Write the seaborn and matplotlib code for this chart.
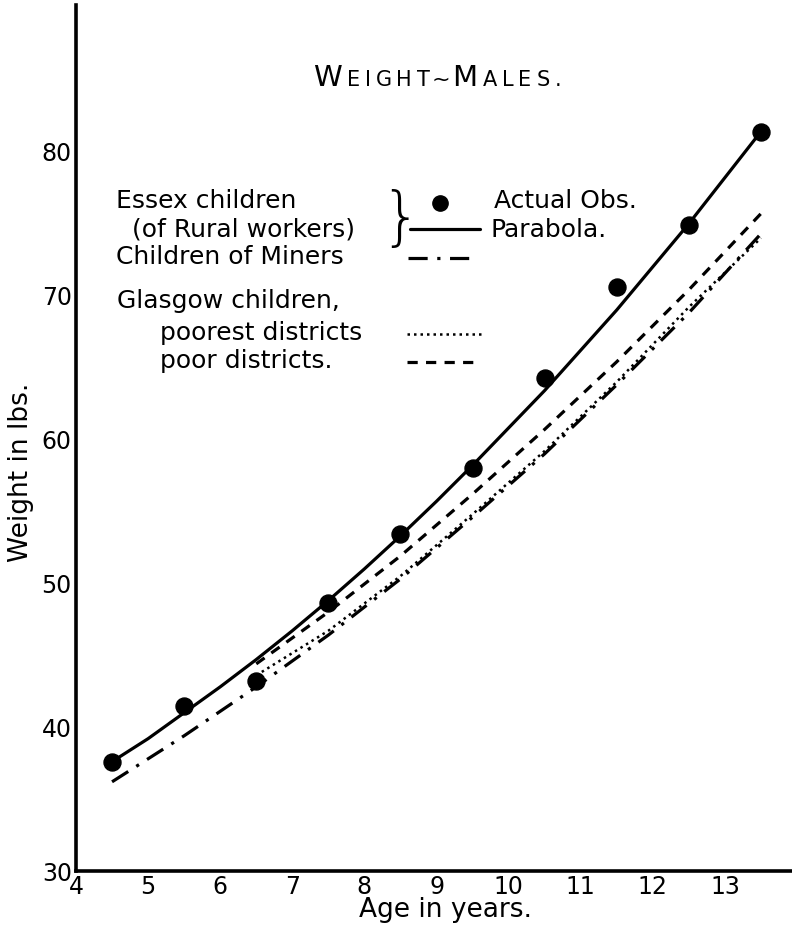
import matplotlib
matplotlib.use("Agg")
import matplotlib.pyplot as plt
import seaborn as sns
import pandas as pd
from matplotlib.lines import Line2D

# ---- data ----
obs_age = [4.5, 5.5, 6.5, 7.5, 8.5, 9.5, 10.5, 11.5, 12.5, 13.5]
obs_weight = [37.6, 41.5, 43.2, 48.6, 53.4, 58.0, 64.3, 70.6, 74.9, 81.4]

parabola_age = [4.5, 5.0, 5.5, 6.0, 6.5, 7.0, 7.5, 8.0, 8.5, 9.0,
                9.5, 10.0, 10.5, 11.0, 11.5, 12.0, 12.5, 13.0, 13.5]
parabola_weight = [37.6, 39.2, 41.0, 42.8, 44.7, 46.7, 48.8, 51.0, 53.3, 55.7,
                   58.2, 60.8, 63.4, 66.2, 69.0, 72.0, 75.0, 78.2, 81.4]

miners_age = [4.5, 5.5, 6.5, 7.5, 8.5, 9.5, 10.5, 11.5, 12.5, 13.5]
miners_weight = [36.2, 39.4, 42.8, 46.4, 50.3, 54.6, 59.0, 63.8, 68.8, 74.3]

glasgow_age = [6.5, 7.5, 8.5, 9.5, 10.5, 11.5, 12.5, 13.5]
poorest_weight = [43.6, 46.7, 50.5, 54.8, 59.2, 64.0, 69.2, 74.0]
poor_weight = [44.4, 48.0, 51.9, 56.2, 60.7, 65.4, 70.4, 75.7]

x_ticks = [4, 5, 6, 7, 8, 9, 10, 11, 12, 13]
y_ticks = [30, 40, 50, 60, 70, 80]

# ---- style ----
sns.set_style("white")
plt.rcParams["font.family"] = ["DejaVu Sans"]
plt.rcParams["text.color"] = "black"
plt.rcParams["axes.labelcolor"] = "black"
plt.rcParams["xtick.color"] = "black"
plt.rcParams["ytick.color"] = "black"

W, H = 792, 930
fig = plt.figure(figsize=(W / 100, H / 100), dpi=100)
ax = fig.add_axes([76 / W, 59 / H, (791 - 76) / W, (925 - 59) / H])

def fx(px):
    return px / W

def fy(py):
    return 1 - py / H

ink = "black"
lw = 2.3

sns.lineplot(x=parabola_age, y=parabola_weight, ax=ax, color=ink, lw=lw)
sns.lineplot(x=miners_age, y=miners_weight, ax=ax, color=ink, lw=lw,
             dashes=(6, 3, 1, 3))
sns.lineplot(x=glasgow_age, y=poor_weight, ax=ax, color=ink, lw=lw,
             dashes=(3.2, 2.6))
sns.lineplot(x=glasgow_age, y=poorest_weight, ax=ax, color=ink, lw=1.8,
             dashes=(1, 1.6))
sns.scatterplot(x=obs_age, y=obs_weight, ax=ax, color=ink, s=150,
                edgecolor=ink, zorder=5)

ax.set_xlim(4, 4 + (791 - 77) / 72.0)
ax.set_ylim(30, 90.2)
ax.set_xticks(x_ticks)
ax.set_yticks(y_ticks)
ax.set_xticklabels([str(v) for v in x_ticks], fontsize=17)
ax.set_yticklabels([str(v) for v in y_ticks], fontsize=17)
ax.tick_params(axis="x", direction="in", length=8, width=2, pad=3, colors=ink)
ax.tick_params(axis="y", direction="in", length=7, width=2, pad=3, colors=ink)
for side in ["top", "right"]:
    ax.spines[side].set_visible(False)
for side in ["left", "bottom"]:
    ax.spines[side].set_linewidth(2.6)
    ax.spines[side].set_color(ink)

ax.set_xlabel("Age in years.", fontsize=19)
ax.set_ylabel("Weight in lbs.", fontsize=19)
ax.xaxis.set_label_coords((445 - 76) / 715, (871 - 897) / 866)
ax.yaxis.set_label_coords((21 - 76) / 715, (871 - 472) / 866)
ax.xaxis.label.set_va("top")
ax.yaxis.label.set_va("center")

# ---- title in spaced small caps ----
title_parts = [("W", 21), ("E", 15), ("I", 15), ("G", 15), ("H", 15), ("T", 15),
               ("~", 16), ("M", 21), ("A", 15), ("L", 15), ("E", 15), ("S", 15),
               (".", 15)]
prev = fig.text(fx(313), fy(86), title_parts[0][0], fontsize=title_parts[0][1],
                va="baseline", ha="left")
for ch, size in title_parts[1:]:
    gap = 1.5 if ch in ("~", "M") else 3.5
    prev = ax.annotate(ch, xy=(1, fy(86)), xycoords=(prev, "figure fraction"),
                       xytext=(gap, 0), textcoords="offset points",
                       fontsize=size, va="baseline", ha="left",
                       annotation_clip=False)

# ---- hand-drawn style key ----
fs = 18
fig.text(fx(116), fy(201), "Essex children", fontsize=fs, va="center", ha="left")
fig.text(fx(132), fy(229), "(of Rural workers)", fontsize=fs, va="center", ha="left")
fig.text(fx(380), fy(220), "}", fontsize=46, va="center", ha="left",
         fontweight="light")
fig.text(fx(116), fy(257), "Children of Miners", fontsize=fs, va="center", ha="left")
fig.text(fx(117), fy(301), "Glasgow children,", fontsize=fs, va="center", ha="left")
fig.text(fx(160), fy(333), "poorest districts", fontsize=fs, va="center", ha="left")
fig.text(fx(160), fy(361), "poor districts.", fontsize=fs, va="center", ha="left")
fig.text(fx(494), fy(201), "Actual Obs.", fontsize=fs, va="center", ha="left")
fig.text(fx(490), fy(230), "Parabola.", fontsize=fs, va="center", ha="left")

fig.add_artist(Line2D([fx(440)], [fy(203)], marker="o", ms=11, color=ink,
                      transform=fig.transFigure))
fig.add_artist(Line2D([fx(410), fx(480)], [fy(229), fy(229)], lw=lw, color=ink,
                      transform=fig.transFigure))
fig.add_artist(Line2D([fx(408), fx(474)], [fy(258), fy(258)], lw=lw, color=ink,
                      dashes=(6, 3, 1, 3), transform=fig.transFigure))
fig.add_artist(Line2D([fx(407), fx(482)], [fy(334), fy(334)], lw=1.8, color=ink,
                      dashes=(1, 1.6), transform=fig.transFigure))
fig.add_artist(Line2D([fx(407), fx(481)], [fy(362), fy(362)], lw=lw, color=ink,
                      dashes=(3.2, 2.6), transform=fig.transFigure))

fig.savefig("out.png", dpi=100)
